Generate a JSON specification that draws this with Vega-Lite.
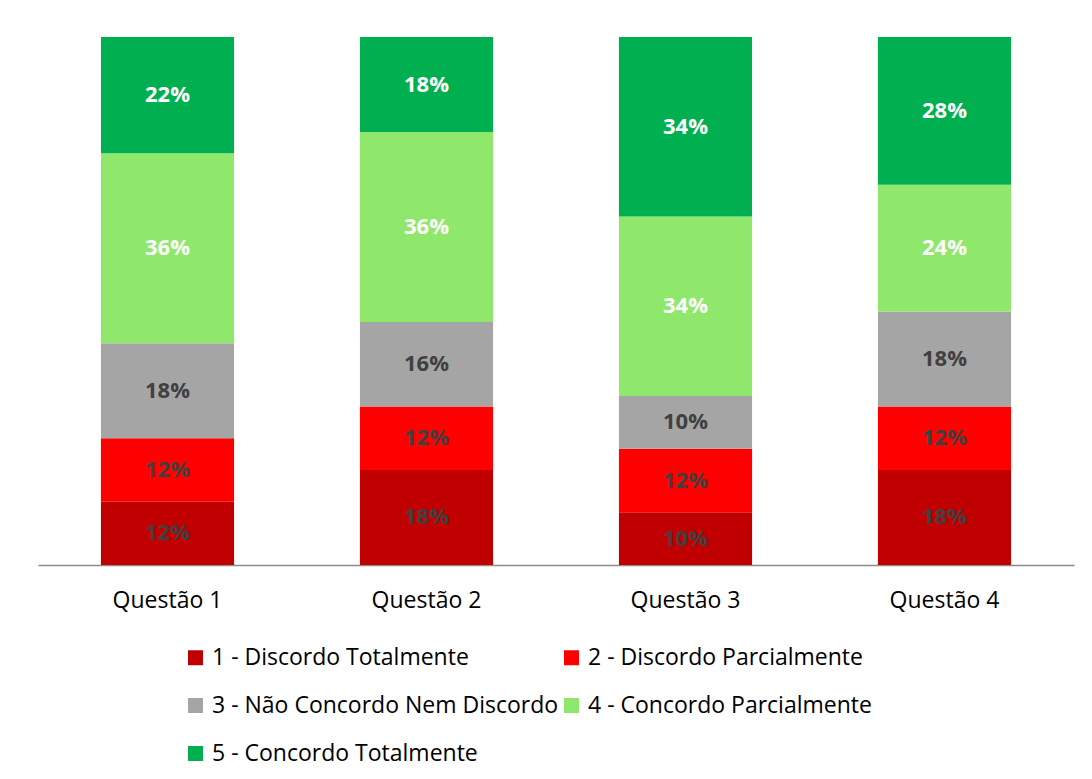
{
  "$schema": "https://vega.github.io/schema/vega-lite/v6.json",
  "width": 1036,
  "height": 528,
  "padding": {"left": 38, "top": 37, "right": 18, "bottom": 0},
  "background": "white",
  "config": {
    "view": {"stroke": null},
    "font": "Open Sans"
  },
  "data": {
    "values": [
      {"q": "Questão 1", "k": 1, "cat": "1 - Discordo Totalmente", "v": 0.12},
      {"q": "Questão 1", "k": 2, "cat": "2 - Discordo Parcialmente", "v": 0.12},
      {"q": "Questão 1", "k": 3, "cat": "3 - Não Concordo Nem Discordo", "v": 0.18},
      {"q": "Questão 1", "k": 4, "cat": "4 - Concordo Parcialmente", "v": 0.36},
      {"q": "Questão 1", "k": 5, "cat": "5 - Concordo Totalmente", "v": 0.22},
      {"q": "Questão 2", "k": 1, "cat": "1 - Discordo Totalmente", "v": 0.18},
      {"q": "Questão 2", "k": 2, "cat": "2 - Discordo Parcialmente", "v": 0.12},
      {"q": "Questão 2", "k": 3, "cat": "3 - Não Concordo Nem Discordo", "v": 0.16},
      {"q": "Questão 2", "k": 4, "cat": "4 - Concordo Parcialmente", "v": 0.36},
      {"q": "Questão 2", "k": 5, "cat": "5 - Concordo Totalmente", "v": 0.18},
      {"q": "Questão 3", "k": 1, "cat": "1 - Discordo Totalmente", "v": 0.10},
      {"q": "Questão 3", "k": 2, "cat": "2 - Discordo Parcialmente", "v": 0.12},
      {"q": "Questão 3", "k": 3, "cat": "3 - Não Concordo Nem Discordo", "v": 0.10},
      {"q": "Questão 3", "k": 4, "cat": "4 - Concordo Parcialmente", "v": 0.34},
      {"q": "Questão 3", "k": 5, "cat": "5 - Concordo Totalmente", "v": 0.34},
      {"q": "Questão 4", "k": 1, "cat": "1 - Discordo Totalmente", "v": 0.18},
      {"q": "Questão 4", "k": 2, "cat": "2 - Discordo Parcialmente", "v": 0.12},
      {"q": "Questão 4", "k": 3, "cat": "3 - Não Concordo Nem Discordo", "v": 0.18},
      {"q": "Questão 4", "k": 4, "cat": "4 - Concordo Parcialmente", "v": 0.24},
      {"q": "Questão 4", "k": 5, "cat": "5 - Concordo Totalmente", "v": 0.28}
    ]
  },
  "encoding": {
    "x": {
      "field": "q",
      "type": "nominal",
      "sort": null,
      "scale": {"paddingInner": 0.486, "paddingOuter": 0.243},
      "axis": {
        "title": null,
        "labelAngle": 0,
        "labelFontSize": 23,
        "labelColor": "#000000",
        "labelPadding": 24,
        "ticks": false,
        "domainColor": "#8c8c8c",
        "domainWidth": 1.5,
        "grid": false
      }
    }
  },
  "layer": [
    {
      "mark": {"type": "bar"},
      "encoding": {
        "y": {"field": "v", "type": "quantitative", "stack": "normalize", "axis": null},
        "order": {"field": "k", "type": "quantitative", "sort": "ascending"},
        "color": {
          "field": "cat",
          "type": "nominal",
          "scale": {
            "domain": ["1 - Discordo Totalmente", "2 - Discordo Parcialmente", "3 - Não Concordo Nem Discordo", "4 - Concordo Parcialmente", "5 - Concordo Totalmente"],
            "range": ["#C00000", "#FF0000", "#A5A5A5", "#8FE86B", "#00B050"]
          },
          "legend": {
            "title": null,
            "orient": "none",
            "legendX": 146,
            "legendY": 609,
            "direction": "horizontal",
            "columns": 2,
            "symbolType": "square",
            "symbolSize": 225,
            "symbolStrokeWidth": 0,
            "labelFontSize": 23,
            "labelColor": "#000000",
            "labelOffset": 5,
            "labelLimit": 0,
            "columnPadding": 1,
            "rowPadding": 24
          }
        }
      }
    },
    {
      "mark": {"type": "text", "fontSize": 22, "fontWeight": "bold", "baseline": "middle", "align": "center"},
      "encoding": {
        "y": {"field": "v", "type": "quantitative", "stack": "normalize", "bandPosition": 0.5},
        "detail": {"field": "cat", "type": "nominal"},
        "order": {"field": "k", "type": "quantitative", "sort": "ascending"},
        "text": {"field": "v", "type": "quantitative", "format": ".0%"},
        "color": {"condition": {"test": "datum.k >= 4", "value": "#FFFFFF"}, "value": "#404040"}
      }
    }
  ]
}
